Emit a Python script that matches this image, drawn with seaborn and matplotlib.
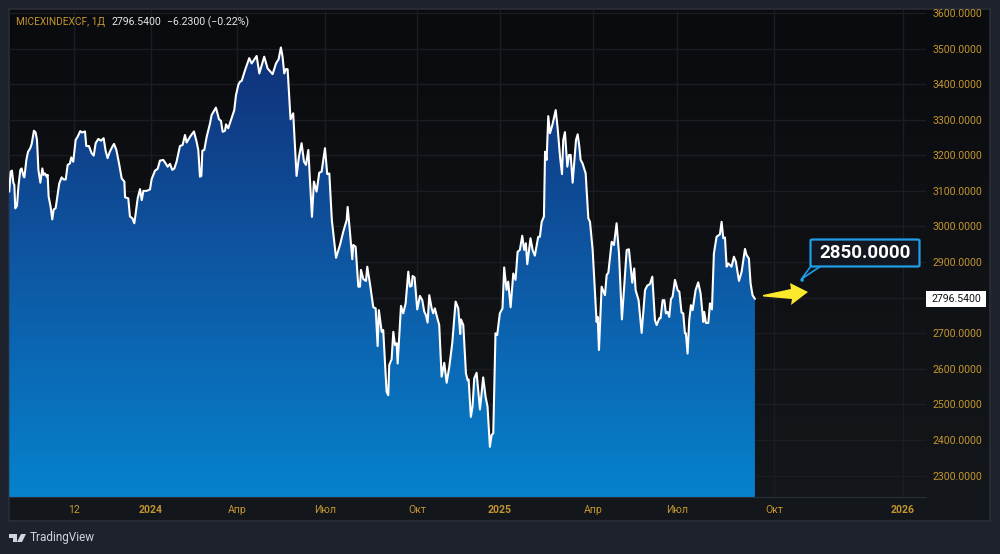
import numpy as np
import pandas as pd
import matplotlib
matplotlib.use("Agg")
import matplotlib.pyplot as plt
from matplotlib.colors import LinearSegmentedColormap
from matplotlib.patches import Circle, FancyBboxPatch, PathPatch, Polygon, Rectangle
import seaborn as sns

# session number (chart bars) and index close
sessions = [
    0.2, 1.2, 2.1, 3.1, 3.8, 4.5, 5.7, 6.7, 8.1, 9.0, 10.5, 11, 12.4, 13.6, 15.2, 16.2, 17.8, 19, 20, 21,
    22.4, 23.8, 24.7, 25.7, 26.9, 27.6, 28.3, 29.7, 30.9, 31.9, 33.3, 34.7, 35.9, 37.6, 39, 40.5, 41.9, 43.5, 44.5, 45.9,
    47.6, 49, 50.9, 52.1, 54.3, 55.2, 57.1, 59, 60.5, 61.9, 63.8, 65.7, 67.6, 69, 70.4, 72,
    73.8, 75, 76.7, 78.6, 80.5, 82.4, 82.9, 85.2, 86.4, 88.1, 89.5, 90.5, 91.9, 93.6, 94.8, 96, 98.3, 100.7, 101.9, 104.3,
    106.2, 107.8, 110.2, 111.9, 113.3, 115, 116.6, 118.1, 119.7, 122.1, 124, 125.7, 126.9, 129.3, 132.1, 134, 135.2, 136.4, 137.4, 138.1,
    139.5, 141.2, 143.6,
    144.7, 147.8, 150, 151.4, 152.6, 154.3, 155, 156.6, 159, 160.9, 162.1, 163.8, 165, 166.2, 168.5, 171.6, 173.3, 176.9, 178.8, 182.3,
    184.7, 188.3, 190.7, 192.6, 194.2, 195.4, 196.6, 197.8, 199, 201.1, 203, 205.4, 207.1, 209, 210.7, 212.1, 213.8, 216.4, 217.8, 219.7,
    221.6, 223.3, 225.7, 227.3, 228.8, 230.6, 233.6,
    236.4, 238.8, 241.2, 241.9, 243.5, 245.2, 245.9, 247.6, 249.5, 250.7, 251.4, 253.1, 255, 255.9, 257.8, 260.2, 261.9, 263.3, 264.2, 266.2,
    267.3, 269.7, 270.9, 271.6, 273.3, 274.5, 275.7, 276.9, 277.6, 280, 281.6, 283.3, 285.2, 286.4, 287.6, 288.3, 289.7, 291.6, 293.5, 295.2,
    296.6, 297.8, 299, 300.2, 301.9, 303, 304.2, 305.4, 307.3, 309, 310.9, 312.6, 314.5, 316.6, 319, 320.9, 322.3, 322.8, 324.5, 326.4,
    327.6, 328.3, 329.9, 331.1, 332.3, 334, 336.4, 338.7, 340.4, 341.8, 343.5, 344.7, 345.9, 347.5, 348.7, 350.6, 352.5, 353.7, 355.4, 356.6,
    358.3, 360.2, 361.8, 363.3, 364.9, 366.6, 368, 369.2, 370.2, 372.5, 374, 375.6, 378, 379.2,
    380.5, 382.1, 382.9, 384, 385.2, 386.4, 388.1, 390.5, 391.9, 393.6, 395, 395.9, 397.1, 398.8, 400, 401.2, 402.6, 405, 406.2, 407.4,
    408.3, 409.7, 411.9, 413.8, 415, 416.9, 419.7, 420.5, 421.4, 423.3, 425.7, 426.9, 428.1, 430.5, 432.1, 434, 435.7, 437.8, 439.3, 441.2,
    442.8, 445.2, 446.6, 447.6, 449.7, 451.9, 454.3, 455.9, 457.8, 459.5, 461.4, 462.6, 464.5, 465.4, 466.9, 468.1, 469.2, 470.4, 471.6, 472.8,
    474, 475.7, 477.6, 478.8, 480.4, 481.6, 482.8, 483.5, 484.7, 485.9, 487.1, 488.3, 490.4, 492.3, 494, 495.9, 496.6, 497.8, 499.5, 500.7,
    502.1, 503.5, 505.4, 507.8, 509, 510.2, 511.4, 512.6, 513.8, 516.1, 517.8, 519.2, 521.4, 523.3, 525.7, 526.8, 528.5, 529.7, 531.1, 532.8,
]
closes = [
    3098, 3154, 3157, 3123, 3117, 3051, 3058, 3112, 3159, 3163, 3140, 3138, 3187, 3210, 3220, 3232, 3269, 3264, 3243, 3159,
    3123, 3163, 3145, 3149, 3140, 3145, 3084, 3056, 3020, 3048, 3051, 3088, 3121, 3138, 3132, 3132, 3173, 3177, 3194, 3182,
    3243, 3252, 3268, 3264, 3267, 3226, 3226, 3206, 3199, 3234, 3246, 3241, 3248, 3213, 3192, 3210,
    3224, 3232, 3215, 3177, 3135, 3126, 3082, 3079, 3028, 3023, 3009, 3037, 3079, 3105, 3074, 3100, 3100, 3104, 3133, 3157,
    3162, 3185, 3187, 3177, 3168, 3176, 3159, 3163, 3182, 3226, 3229, 3257, 3236, 3252, 3267, 3238, 3215, 3140, 3142, 3213,
    3215, 3252, 3290,
    3313, 3334, 3301, 3297, 3266, 3269, 3287, 3276, 3304, 3327, 3368, 3398, 3407, 3409, 3438, 3473, 3458, 3479, 3430, 3477,
    3444, 3428, 3458, 3470, 3503, 3477, 3430, 3442, 3442, 3301, 3318, 3142, 3196, 3234, 3182, 3173, 3215, 3027, 3126, 3098,
    3151, 3154, 3220, 3147, 3149, 3018, 2912,
    2948, 2986, 3018, 3055, 2986, 2908, 2948, 2943, 2831, 2831, 2878, 2852, 2847, 2887, 2840, 2773, 2770, 2664, 2765, 2704,
    2709, 2536, 2526, 2611, 2627, 2704, 2667, 2672, 2615, 2777, 2756, 2784, 2873, 2831, 2833, 2861, 2857, 2767, 2805, 2793,
    2761, 2751, 2730, 2807, 2770, 2756, 2770, 2751, 2723, 2578, 2617, 2561, 2606, 2672, 2789, 2770, 2698, 2739, 2723, 2587,
    2568, 2570, 2465, 2494, 2573, 2589, 2486, 2576, 2522, 2494, 2381, 2414, 2419, 2700, 2695, 2756, 2770, 2885, 2822, 2845,
    2773, 2868, 2850, 2929, 2934, 2974, 2934, 2953, 2894, 2967, 2934, 2918, 2971, 2971,
    3013, 3028, 3210, 3187, 3310, 3262, 3285, 3327, 3276, 3196, 3147, 3243, 3265, 3168, 3201, 3201, 3123, 3243, 3259, 3224,
    3187, 3177, 3149, 3023, 3013, 2934, 2732, 2746, 2653, 2831, 2807, 2864, 2870, 2957, 2948, 3009, 2924, 2739, 2826, 2934,
    2936, 2842, 2882, 2821, 2793, 2701, 2821, 2834, 2838, 2859, 2737, 2723, 2742, 2742, 2793, 2793, 2756, 2760, 2746, 2796,
    2803, 2850, 2821, 2817, 2758, 2756, 2700, 2700, 2643, 2737, 2779, 2765, 2821, 2843, 2812, 2732, 2760, 2729, 2729, 2784,
    2767, 2924, 2971, 2978, 3013, 2967, 2969, 2887, 2896, 2887, 2915, 2901, 2847, 2873, 2937, 2920, 2910, 2840, 2807, 2796.54,
]
price_ticks = [2300, 2400, 2500, 2600, 2700, 2800, 2900, 3000, 3100, 3200, 3300, 3400, 3500, 3600]
time_ticks = [46.4, 101.4, 162.9, 225.7, 291.4, 350.7, 417.1, 477.1, 546.4, 638.6]
time_labels = ["12", "2024", "Апр", "Июл", "Окт", "2025", "Апр", "Июл", "Окт", "2026"]

W, H = 1000, 554
AMBER = "#c4952f"
GRID = "#1a1d22"
OUTER = "#1e222d"

sns.set_style("dark")
plt.rcParams["font.family"] = ["Roboto", "DejaVu Sans"]


def px_box(x0, y0, x1, y1):
    # pixel box (y down) to figure fractions
    return [x0 / W, 1 - y1 / H, (x1 - x0) / W, (y1 - y0) / H]


def fx(x, y):
    return x / W, 1 - y / H


fig = plt.figure(figsize=(W / 100, H / 100), dpi=100, facecolor=OUTER)

# dark panel behind the chart and both scales
bg = fig.add_axes(px_box(9, 9, 990, 521))
bg_cmap = LinearSegmentedColormap.from_list("bg", ["#0a0b0e", "#0f1114", "#14171b"])
bg.imshow(np.linspace(0, 1, 256).reshape(-1, 1), aspect="auto", cmap=bg_cmap)
bg.set_xticks([])
bg.set_yticks([])
for s in bg.spines.values():
    s.set_color("#2a2e39")
    s.set_linewidth(1.2)

ax = fig.add_axes(px_box(9, 9, 926, 497))
ax.patch.set_alpha(0)
xlim = (0, 655)
ylim = (2240, 3611)

df = pd.DataFrame({"session": sessions, "close": closes})

# gradient area under the line
area = ax.fill_between(df["session"], df["close"], ylim[0], color="none", linewidth=0)
fill_cmap = LinearSegmentedColormap.from_list("fill", ["#103078", "#0e58a4", "#0682cd"])
img = ax.imshow(np.linspace(0, 1, 256).reshape(-1, 1), aspect="auto", cmap=fill_cmap,
                extent=[xlim[0], xlim[1], ylim[0], 3510], zorder=2)
img.set_clip_path(PathPatch(area.get_paths()[0], transform=ax.transData))

sns.lineplot(data=df, x="session", y="close", sort=False, estimator=None, color="white",
             linewidth=1.5, ax=ax, zorder=3)

ax.set_xlim(xlim)
ax.set_ylim(ylim)
ax.set_xlabel("")
ax.set_ylabel("")
ax.yaxis.tick_right()
ax.set_yticks(price_ticks)
ax.set_yticklabels([f"{p}.0000" for p in price_ticks], color=AMBER, fontsize=7.6)
ax.set_xticks(time_ticks)
ax.set_xticklabels(time_labels, color=AMBER, fontsize=7.6)
for lab in ax.get_xticklabels():
    if lab.get_text().startswith("20"):
        lab.set_fontweight("bold")
ax.tick_params(axis="y", length=0, pad=5)
ax.tick_params(axis="x", length=0, pad=6)
ax.grid(True, color=GRID, linewidth=1)
ax.set_axisbelow(True)
for name, s in ax.spines.items():
    s.set_visible(name == "bottom")
ax.spines["bottom"].set_color("#2a2e39")

# last price tag
fig.patches.append(Rectangle(fx(926, 307), 60 / W, 16 / H, transform=fig.transFigure,
                             facecolor="white", edgecolor="none", zorder=6))
fig.text(*fx(956, 299), "2796.5400", color="#111111", fontsize=7.6, ha="center", va="center", zorder=7)

# yellow arrow
fig.patches.append(Polygon([fx(763, 295), fx(791, 289), fx(790, 283), fx(808, 292), fx(791, 305),
                            fx(792, 299), fx(763, 296.5)], closed=True, transform=fig.transFigure,
                           facecolor="#fde92b", edgecolor="none", zorder=6))

# callout with the target
CALLOUT = "#1f9ee6"
fig.patches.append(Polygon([fx(811, 266), fx(801.5, 279), fx(821, 266)], closed=True, transform=fig.transFigure,
                           facecolor="#131722", edgecolor=CALLOUT, linewidth=1.2, zorder=6))
fig.patches.append(Circle(fx(801.5, 279), 0.0018, transform=fig.dpi_scale_trans + plt.matplotlib.transforms.Affine2D(),
                          visible=False))
fig.text(*fx(801.5, 279), "●", color=CALLOUT, fontsize=3.5, ha="center", va="center", zorder=7, family="DejaVu Sans")
fig.patches.append(FancyBboxPatch(fx(810.5, 266.5), 109 / W, 27 / H, boxstyle="round,pad=0,rounding_size=0.002",
                                  transform=fig.transFigure, mutation_aspect=1,
                                  facecolor="#131722", edgecolor=CALLOUT, linewidth=1.6, zorder=6))
fig.text(*fx(865.5, 253), "2850.0000", color="white", fontsize=13.5, fontweight="bold", ha="center", va="center", zorder=7)

# header line
fig.text(*fx(16, 22), "MICEXINDEXCF, 1Д", color=AMBER, fontsize=7.3, va="center")
fig.text(*fx(111, 22), "2796.5400", color="#e6e6e6", fontsize=7.6, va="center")
fig.text(*fx(167, 22), "−6.2300 (−0.22%)", color="#e6e6e6", fontsize=7.6, va="center")

# TradingView mark
logo = "#d1d4dc"
fig.patches.append(Polygon([fx(9, 534), fx(17, 534), fx(17, 542), fx(13, 542), fx(13, 538), fx(9, 538)], closed=True,
                           transform=fig.transFigure, facecolor=logo, edgecolor="none"))
fig.patches.append(Polygon([fx(21, 534), fx(26, 534), fx(22, 542), fx(17, 542)], closed=True,
                           transform=fig.transFigure, facecolor=logo, edgecolor="none"))
fig.text(*fx(30, 538), "TradingView", color="#d1d4dc", fontsize=8.5, va="center")

fig.savefig("out.png", dpi=100, facecolor=OUTER)
